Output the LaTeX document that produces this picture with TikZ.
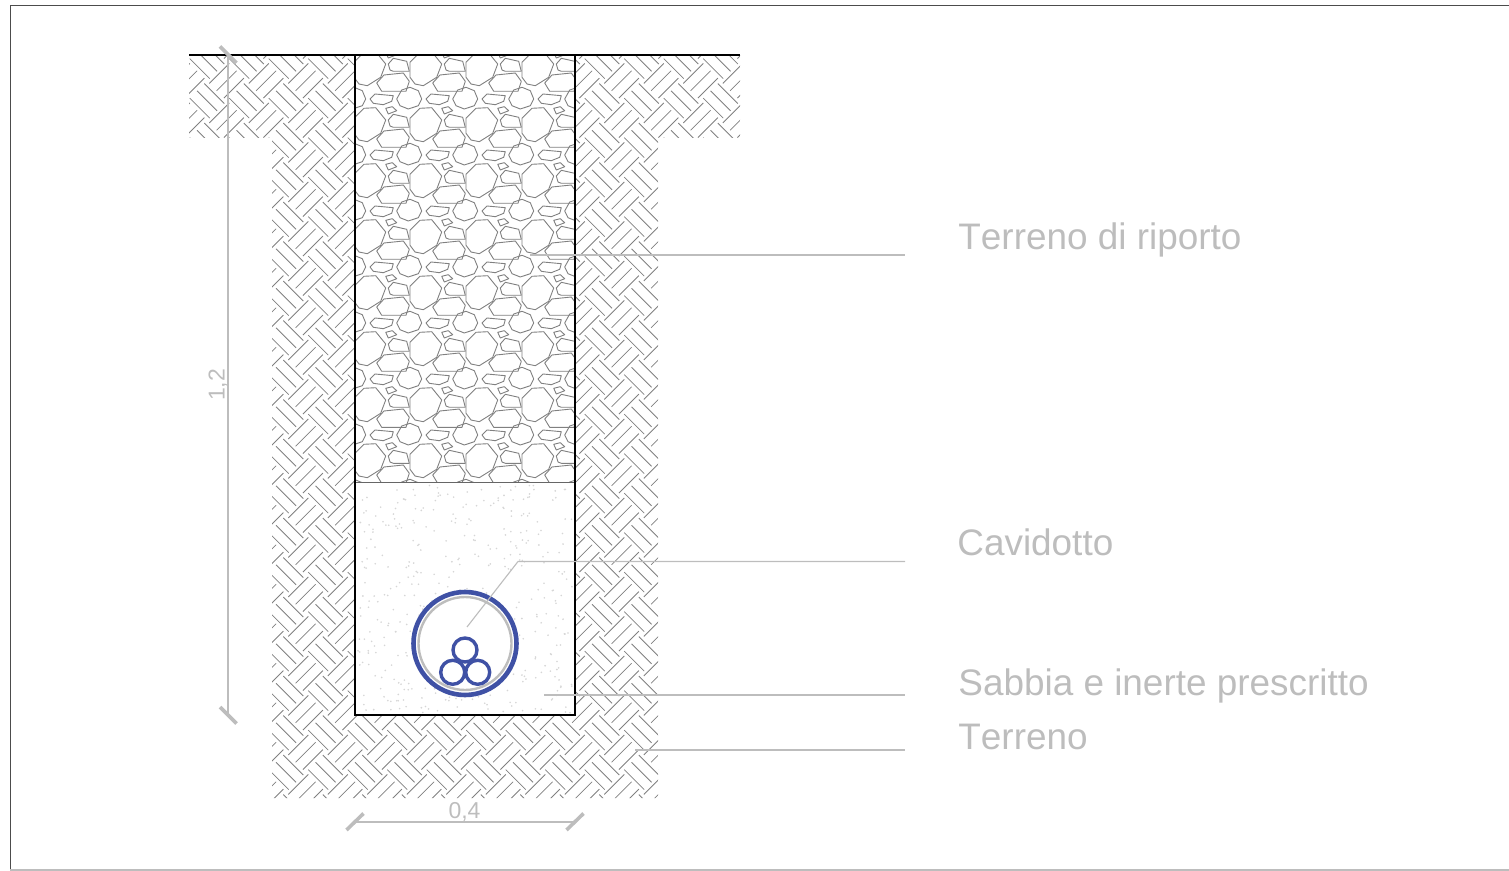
\documentclass[tikz,border=0pt]{standalone}
\usepackage{fontspec}
\setmainfont[Kerning=Off]{Liberation Sans}
\definecolor{dimgray}{HTML}{BDBDBD}
\definecolor{hatchgray}{HTML}{808080}
\definecolor{sandgray}{HTML}{D6D6D6}
\definecolor{pipeblue}{HTML}{3F51A5}
\tikzset{
  hatchline/.style={hatchgray, line width=0.4pt},
  stoneline/.style={hatchgray, line width=0.45pt, line join=round},
  wallline/.style={black, line width=1.35pt},
  dimline/.style={dimgray, line width=1pt},
  dimtick/.style={dimgray, line width=1.8pt},
  leaderline/.style={dimgray, line width=0.55pt},
  calllabel/.style={dimgray, anchor=base west, inner sep=0pt, font=\fontsize{18.45}{20}\selectfont},
  dimlabel/.style={dimgray, inner sep=0pt, font=\fontsize{11.5}{13}\selectfont},
}
\begin{document}
\begin{tikzpicture}[x=0.5pt, y=-0.5pt]
    \useasboundingbox (0,0) rectangle (1509,871);
    \draw[black!70, line width=0.5pt] (1509,6) -- (10,6) -- (10,871);
    \draw[dimgray, line width=0.6pt] (10,870) -- (1509,870);
    \begin{scope}
      \clip (189,55) rectangle (740,138) (272,138) rectangle (658,798);
      \foreach \i in {-3,...,11}
        \foreach \k in {-18,...,1}
          \foreach \j in {0,1,2} {
            \draw[hatchline, shift={(283.3+39.5*\i-7.3*\j,755+39.5*\k+7.3*\j)}] (0,0) -- (20,20);
            \draw[hatchline, shift={(288.3+39.5*\i+7.3*\j,755+39.5*\k+7.3*\j)}] (0,0) -- (20,-20);
          }
    \end{scope}
    \fill[white] (355,55) rectangle (575,715);
    \begin{scope}
      \clip (355,55) rectangle (575,482);
      \foreach \i in {-1,0,1,2,3}
        \foreach \k in {-1,...,6} {
          \begin{scope}[shift={(\i*56,\k*56)}, stoneline]
            \draw (410,118.3) -- (420,108.3) -- (431.7,107.7) -- (441.7,120) -- (436.7,133.3) -- (423.3,141.7) -- (415,140) -- (410,133.3) -- cycle;
            \draw (388.3,120) -- (393.3,114.3) -- (406.7,117.3) -- (409.3,127.3) -- (393.3,127.3) -- (390,126) -- cycle;
            \draw (385.7,108.3) -- (392.3,106.7) -- (396.7,110.7) -- (388.3,114) -- cycle;
            \draw (376.7,139) -- (384,131) -- (403.3,129) -- (409.3,137.3) -- (406,147.3) -- (381.7,147.3) -- cycle;
            \draw (396.7,155) -- (401.7,146) -- (410,143.3) -- (418.3,146.7) -- (421.7,155) -- (418.3,161.7) -- (408.3,165) -- (400,161.7) -- cycle;
            \draw (370,155) -- (375,150) -- (393.3,151.7) -- (391.7,157.3) -- (383.3,160.7) -- (373.3,159.3) -- cycle;
          \end{scope}
        }
    \end{scope}
    \pgfmathsetseed{41}
    \foreach \n in {1,...,420} {
      \pgfmathsetmacro{\dotx}{358+214*rnd}
      \pgfmathsetmacro{\doty}{485+228*rnd}
      \fill[sandgray] (\dotx,\doty) circle (0.9);
    }
    \draw[black!60, line width=0.5pt] (355,482) -- (575,482);
    \draw[wallline] (189,55) -- (740,55);
    \draw[wallline, line join=miter] (355,55) -- (355,715) -- (575,715) -- (575,55);
    \fill[white] (465,643.5) circle (52);
    \draw[dimgray, line width=1.2pt] (465,643.5) circle (46.5);
    \draw[pipeblue, line width=2.3pt] (465,643.5) circle (51.5);
    \draw[pipeblue, line width=1.7pt] (465,650) circle (12);
    \draw[pipeblue, line width=1.7pt] (452.7,672.3) circle (12);
    \draw[pipeblue, line width=1.7pt] (477.7,672.3) circle (12);
    \node[calllabel] (lblRiporto) at (958,249.5) {Terreno di riporto};
    \node[calllabel] (lblCavidotto) at (957,555) {Cavidotto};
    \node[calllabel] (lblSabbia) at (958,695) {Sabbia e inerte prescritto};
    \node[calllabel] (lblTerreno) at (958,749.5) {Terreno};
    \coordinate (riportoA) at (530,255);
    \coordinate (riportoB) at (905,255);
    \coordinate (cavoA) at (467,627);
    \coordinate (cavoK) at (518,561.5);
    \coordinate (cavoB) at (905,561.5);
    \coordinate (sabbiaA) at (544,695);
    \coordinate (sabbiaB) at (905,695);
    \coordinate (terrenoA) at (635,750);
    \coordinate (terrenoB) at (905,750);
    \draw[leaderline] (riportoA) -- (riportoB);
    \draw[leaderline] (cavoA) -- (cavoK) -- (cavoB);
    \draw[leaderline] (sabbiaA) -- (sabbiaB);
    \draw[leaderline] (terrenoA) -- (terrenoB);
    \coordinate (dimTop) at (228,55);
    \coordinate (dimBot) at (228,715);
    \coordinate (dimLeft) at (355,821.5);
    \coordinate (dimRight) at (575,821.5);
    \draw[dimline] (dimTop) -- (dimBot) node[dimlabel, pos=0.5, xshift=-5pt, rotate=90] (lblHeight) {1,2};
    \draw[dimline] (dimLeft) -- (dimRight);
    \draw[dimtick] (220,46.5) -- (236.5,63);
    \draw[dimtick] (220,707) -- (236.5,723.5);
    \draw[dimtick] (346.5,830) -- (363.5,813.5);
    \draw[dimtick] (566.5,830) -- (583.5,813.5);
    \node[dimlabel, anchor=base] (lblWidth) at (464.5,818) {0,4};
  \end{tikzpicture}
\end{document}
